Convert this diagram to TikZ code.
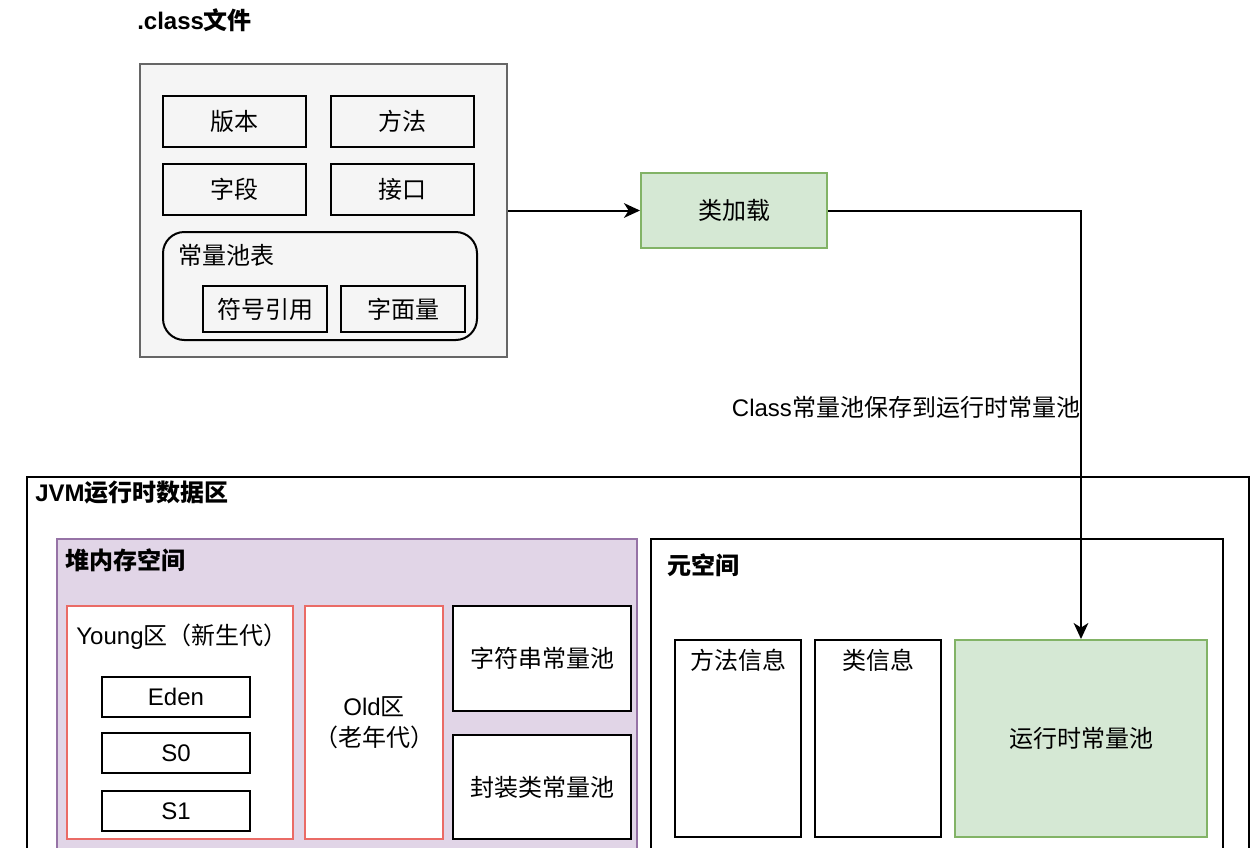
\documentclass[tikz,border=0pt]{standalone}
\usepackage{fontspec}
\setmainfont{Liberation Sans}
\newfontfamily\cjk{Noto Sans CJK SC}
\newcommand{\lat}[1]{{\rmfamily #1}}
\usetikzlibrary{fit,arrows.meta}
\definecolor{grayfill}{HTML}{F5F5F5}
\definecolor{grayline}{HTML}{666666}
\definecolor{greenfill}{HTML}{D5E8D4}
\definecolor{greenline}{HTML}{82B366}
\definecolor{purplefill}{HTML}{E1D5E7}
\definecolor{purpleline}{HTML}{9673A6}
\definecolor{redline}{HTML}{EA6B66}

\begin{document}
\begin{tikzpicture}[x=0.75pt,y=0.75pt,yscale=-1,xscale=1,
  box/.style={draw, line width=1.5pt, inner sep=0pt},
  greenbox/.style={box, draw=greenline, fill=greenfill},
  redbox/.style={box, draw=redline, fill=white},
  txt/.style={inner sep=0pt, align=center, font=\cjk\fontsize{18}{23}\selectfont},
  title/.style={inner sep=0pt, anchor=west, font=\cjk\bfseries\fontsize{18}{23}\selectfont},
  link/.style={line width=1.5pt, -{Stealth[length=12pt,width=11pt,inset=3.5pt]}}]
\useasboundingbox (0,0) rectangle (1259,847);
\clip (0,0) rectangle (1259,847);

% .class file
\node [title] (classtitle) at (137,20) {\lat{.class}文件};
\node [box, draw=grayline, fill=grayfill, fit={(140,64) (507,357)}] (classfile) {};
\node [box, fit={(163,96) (306,147)}, label={[txt]center:版本}] (version) {};
\node [box, fit={(331,96) (474,147)}, label={[txt]center:方法}] (method) {};
\node [box, fit={(163,164) (306,215)}, label={[txt]center:字段}] (field) {};
\node [box, fit={(331,164) (474,215)}, label={[txt]center:接口}] (iface) {};
\node [box, rounded corners=16pt, fit={(163,232) (477,340)}] (pooltable) {};
\node [txt, anchor=west] (pooltitle) at (178,255) {常量池表};
\node [box, fit={(203,286) (327,332)}, label={[txt]center:符号引用}] (symref) {};
\node [box, fit={(341,286) (465,332)}, label={[txt]center:字面量}] (literal) {};

% class loading
\node [greenbox, fit={(641,173) (827,248)}, label={[txt]center:类加载}] (loading) {};

% JVM runtime data area
\node [box, fit={(27,477) (1249,900)}] (jvm) {};
\node [title] (jvmtitle) at (35,493) {\lat{JVM}运行时数据区};

% heap
\node [box, draw=purpleline, fill=purplefill, fit={(57,539) (637,900)}] (heap) {};
\node [title] (heaptitle) at (65,560) {堆内存空间};
\node [redbox, fit={(67,606) (293,839)}] (young) {};
\node [txt] (youngtitle) at (182,637) {\lat{Young}区（新生代）};
\node [box, fit={(102,677) (250,717)}, label={[txt]center:\lat{Eden}}] (eden) {};
\node [box, fit={(102,733) (250,773)}, label={[txt]center:\lat{S0}}] (szero) {};
\node [box, fit={(102,791) (250,831)}, label={[txt]center:\lat{S1}}] (sone) {};
\node [redbox, fit={(305,606) (443,839)}, label={[txt]center:\lat{Old}区\\（老年代）}] (old) {};
\node [box, fill=white, fit={(453,606) (631,711)}, label={[txt]center:字符串常量池}] (strpool) {};
\node [box, fill=white, fit={(453,735) (631,839)}, label={[txt]center:封装类常量池}] (wrappool) {};

% metaspace
\node [box, fit={(651,539) (1223,900)}] (meta) {};
\node [title] (metatitle) at (667,565) {元空间};
\node [box, fit={(675,640) (801,837)}] (methodinfo) {};
\node [txt] (methodinfotitle) at (738,660) {方法信息};
\node [box, fit={(815,640) (941,837)}] (classinfo) {};
\node [txt] (classinfotitle) at (878,660) {类信息};
\node [greenbox, fit={(955,640) (1207,837)}, label={[txt]center:运行时常量池}] (rtpool) {};

% arrows
\draw [link] (classfile.east) -- (loading.west);
\draw [link] (loading.east) -| node [txt, pos=0.73, anchor=east] (savelabel) {\lat{Class}常量池保存到运行时常量池} (rtpool.north);

\end{tikzpicture}
\end{document}
